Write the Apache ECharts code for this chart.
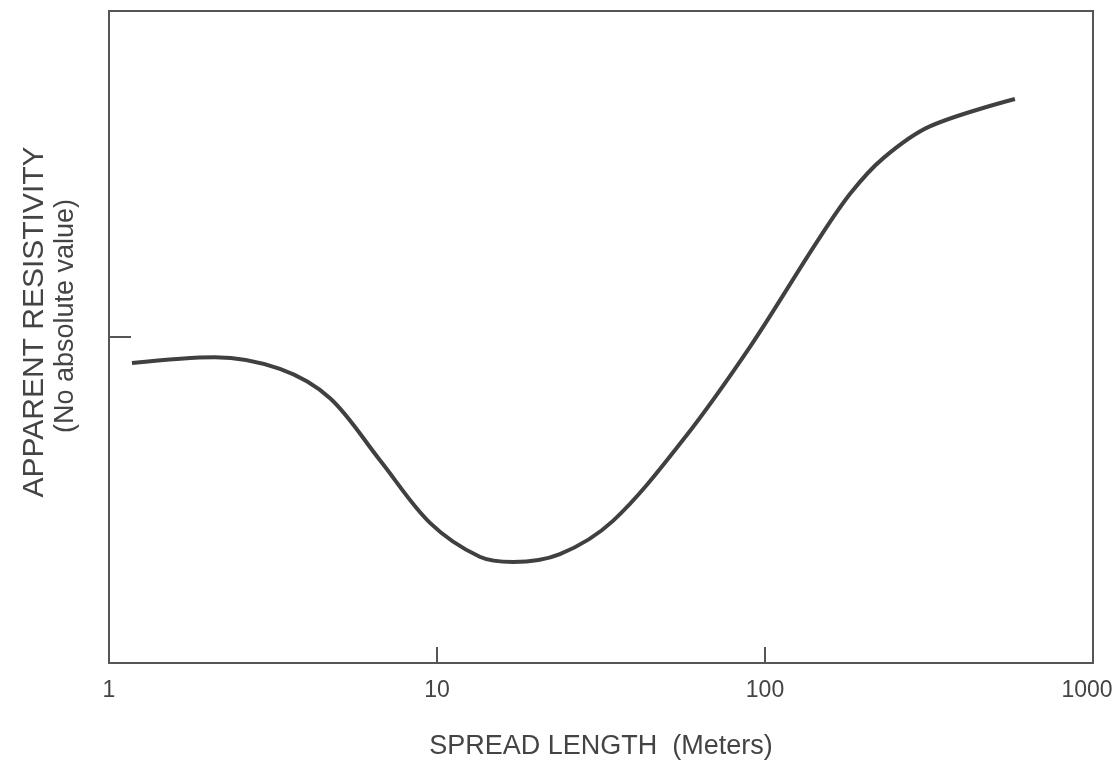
<!DOCTYPE html>
<html>
<head>
<meta charset="utf-8">
<title>Apparent resistivity vs spread length</title>
<script src="https://cdn.jsdelivr.net/npm/echarts@6/dist/echarts.min.js"></script>
<style>
  html, body { margin: 0; padding: 0; background: #fff; overflow: hidden; }
  #chart { width: 1117px; height: 762px; }
</style>
</head>
<body>
<div id="chart"></div>
<script>
// spread length in meters (log axis) and relative resistivity (no absolute value)
const spreadLength = [1.175, 2.1, 3.32, 4.72, 6.7, 9.52, 13.5, 17.05, 23.7, 34.4, 56.2, 90, 144, 182, 229, 318, 578]
const resistivity = [46.0, 46.9, 45.1, 40.6, 31.1, 21.5, 16.3, 15.5, 16.7, 21.8, 34.2, 48.5, 64.6, 72.0, 77.4, 82.3, 86.5]
const xTickLabels = ['1', '10', '100', '1000']

const ink = '#444'
const font = '"Liberation Sans", Arial, sans-serif'

const chart = echarts.init(document.getElementById('chart'))

chart.setOption({
  animation: false,
  backgroundColor: '#fff',
  grid: {
    left: 109,
    top: 11,
    right: 24,
    bottom: 99,
    outerBoundsMode: 'none',
    show: true,
    borderColor: '#555',
    borderWidth: 2
  },
  xAxis: {
    type: 'log',
    logBase: 10,
    min: 1,
    max: 1000,
    name: 'SPREAD LENGTH  (Meters)',
    nameLocation: 'middle',
    nameGap: 70,
    nameTextStyle: {
      fontSize: 27,
      fontFamily: font,
      color: ink,
      verticalAlign: 'top'
    },
    axisLine: { lineStyle: { color: '#555', width: 2 } },
    axisTick: { inside: true, length: 16, lineStyle: { color: '#555', width: 2 } },
    splitLine: { show: false },
    minorTick: { show: false },
    axisLabel: {
      margin: 16,
      fontSize: 23,
      fontFamily: font,
      color: ink,
      showMinLabel: true,
      showMaxLabel: true,
      rich: {
        last: { fontSize: 23, fontFamily: font, color: ink, padding: [0, 12, 0, 0] }
      },
      formatter: function(value) {
        const idx = Math.round(Math.log10(value))
        const label = xTickLabels[idx] !== undefined ? xTickLabels[idx] : ''
        return idx === xTickLabels.length - 1 ? '{last|' + label + '}' : label
      }
    }
  },
  yAxis: {
    type: 'value',
    min: 0,
    max: 100,
    interval: 50,
    axisLine: { show: true, lineStyle: { color: '#555', width: 2 } },
    axisTick: { inside: true, length: 22, lineStyle: { color: '#555', width: 2 } },
    axisLabel: { show: false },
    splitLine: { show: false }
  },
  series: [
    {
      type: 'line',
      smooth: 0.33,
      showSymbol: false,
      lineStyle: { color: '#404040', width: 4, cap: 'butt' },
      data: spreadLength.map((x, i) => [x, resistivity[i]])
    }
  ],
  graphic: [
    {
      type: 'text',
      x: 35,
      y: 322,
      rotation: Math.PI / 2,
      style: {
        text: 'APPARENT RESISTIVITY',
        fontSize: 30,
        fontFamily: font,
        fill: ink,
        align: 'center',
        verticalAlign: 'middle'
      }
    },
    {
      type: 'text',
      x: 66,
      y: 316,
      rotation: Math.PI / 2,
      style: {
        text: '(No absolute value)',
        fontSize: 27,
        fontFamily: font,
        fill: ink,
        align: 'center',
        verticalAlign: 'middle'
      }
    }
  ]
})
</script>
</body>
</html>
